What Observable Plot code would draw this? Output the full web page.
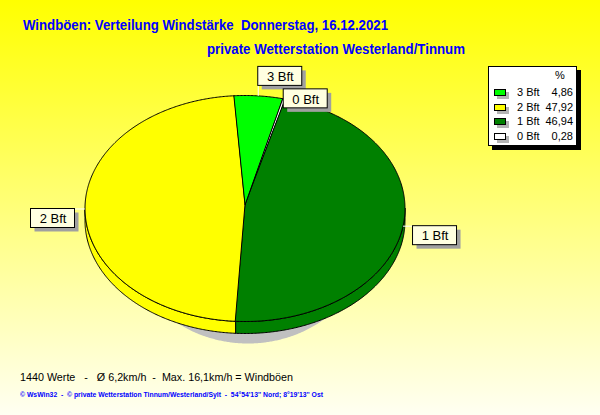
<!DOCTYPE html>
<html><head><meta charset="utf-8">
<script src="https://cdn.jsdelivr.net/npm/d3@7"></script>
<script src="https://cdn.jsdelivr.net/npm/@observablehq/plot@0.6"></script>
<style>
html,body{margin:0;padding:0;}
#root{position:relative;width:600px;height:415px;overflow:hidden;background:linear-gradient(to bottom,#ffff00 0%,#fffff2 100%);font-family:"Liberation Sans",Arial,sans-serif;}
#root svg{position:absolute;left:0;top:0;}
.t{position:absolute;white-space:pre;transform-origin:0 0;line-height:1;}
.legend{position:absolute;left:488px;top:66px;width:87px;height:78px;background:#fff;border:1px solid #000;box-shadow:4px 4px 0 #000;}
.sw{position:absolute;width:12px;height:7px;box-sizing:border-box;border:1px solid #000;box-shadow:3px 3px 0 #b4b4b4;}
</style></head><body><div id="root"></div>
<script>
// ---- data ----
const classes = ["0 Bft", "1 Bft", "2 Bft", "3 Bft"];
const percents = [0.28, 46.94, 47.92, 4.86];
const percentLabels = ["0,28", "46,94", "47,92", "4,86"];
const sliceColors = ["#ffffff", "#008000", "#ffff00", "#00ff00"];
const legendOrder = ["3 Bft", "2 Bft", "1 Bft", "0 Bft"];
const titleText = "Windböen: Verteilung Windstärke  Donnerstag, 16.12.2021";
const subtitleText = "private Wetterstation Westerland/Tinnum";
const footer1Text = "1440 Werte   -   Ø 6,2km/h  -  Max. 16,1km/h = Windböen";
const footer2Text = "© WsWin32  -  © private Wetterstation Tinnum/Westerland/Sylt  -  54°54'13'' Nord; 8°19'13'' Ost";

// ---- geometry (layout) ----
const RAD = Math.PI / 180;
const CX = 244.5, CY = 208, RX = 160, RY = 113, DEPTH = 12, START = 13.5, APEX_LIFT = 4;
const toX = p => (p - CX) / RX, toY = p => (CY - p) / RY;
const dz = DEPTH / RY;
const arcs = d3.pie().sort(null).startAngle(START * RAD).endAngle(START * RAD + 2 * Math.PI)(percents);

function arc(a0, a1, drop) {
  const n = Math.max(2, Math.ceil((a1 - a0) / (0.5 * RAD)) + 1);
  return d3.range(n).map(i => { const a = a0 + (a1 - a0) * i / (n - 1); return [Math.sin(a), Math.cos(a) - drop]; });
}
const tops = [], sides = [], shadow = [];
arcs.forEach((a, i) => {
  const cls = classes[i];
  [[0, APEX_LIFT / RY], ...arc(a.startAngle, a.endAngle, 0)].forEach(([x, y]) => tops.push({cls, x, y}));
  const b0 = Math.max(a.startAngle, 90 * RAD), b1 = Math.min(a.endAngle, 270 * RAD);
  if (b1 > b0) [...arc(b0, b1, 0), ...arc(b0, b1, dz).reverse()].forEach(([x, y]) => sides.push({cls, x, y}));
});
const shCx = toX(247.5), shCy = toY(230), shRx = 123 / RX;
arc(0, 2 * Math.PI, 0).forEach(([x, y]) => shadow.push({x: x * shRx + shCx, y: y + shCy}));

// labels
const W = 44, H = 19, LEAD = 10, SH = 4;
const placed = [], labelRows = [];
legendOrder.forEach(cls => {
  const a = arcs[classes.indexOf(cls)];
  const m = (a.startAngle + a.endAngle) / 2, s = Math.sin(m), c = Math.cos(m);
  const ax = CX + RX * s, ay = CY - RY * c;
  let ex = ax, ey = ay, left, top;
  if (Math.abs(s) >= 0.7) { ex = ax + Math.sign(s) * LEAD; left = s > 0 ? ex : ex - W; top = c >= 0 ? ey - H : ey; }
  else { ey = ay - Math.sign(c) * LEAD; top = c > 0 ? ey - H : ey; left = s >= 0 ? ex : ex - W; }
  const hit = placed.some(p => left < p.left + W && left + W > p.left && top < p.top + H && top + H > p.top);
  if (hit) { ex = ax; ey = ay; left = s >= 0 ? ax : ax - W; top = ay - H / 2; }
  placed.push({left, top});
  labelRows.push({cls, ax: toX(ax), ay: toY(ay), ex: toX(ex), ey: toY(ey),
    x1: toX(left), x2: toX(left + W), y1: toY(top + H), y2: toY(top),
    sx1: toX(left + SH), sx2: toX(left + W + SH), sy1: toY(top + H + SH), sy2: toY(top + SH),
    tx: toX(left + W / 2), ty: toY(top + H / 2 + 0.5)});
});

const chart = Plot.plot({
  width: 600, height: 415, margin: 0,
  x: {domain: [-1, 1], range: [CX - RX, CX + RX], axis: null},
  y: {domain: [-1, 1], range: [CY + RY, CY - RY], axis: null},
  color: {domain: classes, range: sliceColors},
  style: {background: "transparent", overflow: "visible", fontFamily: "Liberation Sans, Arial, sans-serif"},
  marks: [
    Plot.line(shadow, {x: "x", y: "y", fill: "#c0c0c0", stroke: "none", curve: "linear-closed"}),
    Plot.line(sides, {x: "x", y: "y", z: "cls", fill: "cls", stroke: "#000", strokeWidth: 1, curve: "linear-closed"}),
    Plot.line(tops, {x: "x", y: "y", z: "cls", fill: "cls", stroke: "#000", strokeWidth: 1, curve: "linear-closed"}),
    Plot.link(labelRows, {x1: "ax", y1: "ay", x2: "ex", y2: "ey", stroke: "#fff", strokeWidth: 1}),
    Plot.rect(labelRows, {x1: "sx1", x2: "sx2", y1: "sy1", y2: "sy2", fill: "#a0a0a0"}),
    Plot.rect(labelRows, {x1: "x1", x2: "x2", y1: "y1", y2: "y2", fill: "#ffffe1", stroke: "#000", strokeWidth: 1}),
    Plot.text(labelRows, {x: "tx", y: "ty", text: "cls", fontSize: 13, fill: "#000"})
  ]
});
const root = document.getElementById("root");
root.appendChild(chart);

// ---- texts ----
function addText(txt, left, top, size, weight, color, targetW, align) {
  const el = document.createElement("div");
  el.className = "t";
  el.textContent = txt;
  Object.assign(el.style, {left: left + "px", top: top + "px", fontSize: size + "px", fontWeight: weight, color});
  root.appendChild(el);
  const w = el.getBoundingClientRect().width;
  if (align === "right") { el.style.left = (left - w) + "px"; }
  if (targetW) el.style.transform = `scaleX(${targetW / w})`;
  return el;
}
addText(titleText, 23, 18, 14, "bold", "#0000ff", 365);
addText(subtitleText, 207, 42, 14, "bold", "#0000ff", 258);
addText(footer1Text, 20, 371.5, 11, "normal", "#000", 273);
addText(footer2Text, 20, 390.5, 8, "bold", "#0000ff", 303);

// legend
const lg = document.createElement("div");
lg.className = "legend";
root.appendChild(lg);
addText("%", 559 - 4, 75 - 5.4, 11, "normal", "#000");
legendOrder.forEach((cls, i) => {
  const yc = 92.5 + 14.5 * i;
  const k = classes.indexOf(cls);
  const sw = document.createElement("div");
  sw.className = "sw";
  Object.assign(sw.style, {left: "494px", top: (yc - 3.5) + "px", background: sliceColors[k]});
  root.appendChild(sw);
  addText(cls, 517, yc - 5.4, 11, "normal", "#000");
  addText(percentLabels[k], 573, yc - 5.4, 11, "normal", "#000", null, "right");
});
</script></body></html>
